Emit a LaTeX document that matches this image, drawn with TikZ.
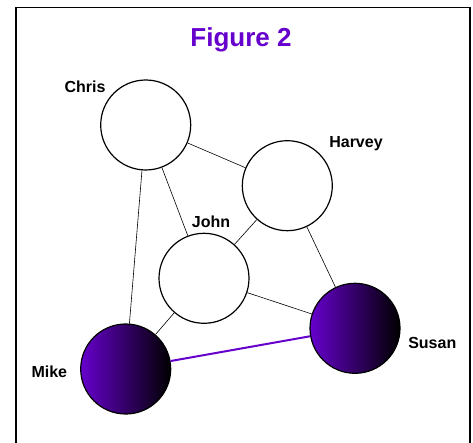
\documentclass[tikz,border=0pt]{standalone}
\usepackage{fontspec}
\setmainfont{Liberation Sans}
\definecolor{vio}{RGB}{102,0,204}
\begin{document}
\begin{tikzpicture}[x=1pt,y=-1pt,
  person/.style={circle,draw=black,line width=1.2pt,minimum size=90pt,inner sep=0pt,fill=white},
  hot/.style={person,shading=axis,left color=vio,right color=black,shading angle=90},
  lbl/.style={font=\fontsize{16}{18}\selectfont\bfseries,inner sep=0pt},
  tie/.style={draw=black,line width=0.6pt},
  strong/.style={draw=vio,line width=2pt}]
\useasboundingbox (0,0) rectangle (473,443);
\begin{scope}
\clip (0,0) rectangle (473,443);
\draw[line width=1.3pt] (16,7.5) rectangle (470,460);
\end{scope}
\node[font=\fontsize{26}{30}\selectfont\bfseries,text=vio] (title) at (241,40) {Figure 2};
\node[person] (chris) at (145.7,125) {};
\node[person] (harvey) at (287.3,185.7) {};
\node[person] (john) at (204,278.3) {};
\node[hot] (susan) at (355,328.3) {};
\node[hot] (mike) at (125.7,369) {};
\node[lbl] (lchris) at (85,87) {Chris};
\node[lbl] (lharvey) at (356,144) {Harvey};
\node[lbl] (ljohn) at (211,222) {John};
\node[lbl] (lsusan) at (432.3,343) {Susan};
\node[lbl] (lmike) at (49.3,372) {Mike};
\path[tie] (chris) -- (harvey);
\path[tie] (chris) -- (john);
\path[tie] (chris) -- (mike);
\path[tie] (harvey) -- (john);
\path[tie] (harvey) -- (susan);
\path[tie] (john) -- (susan);
\path[tie] (john) -- (mike);
\path[strong] (mike) -- (susan);
\end{tikzpicture}
\end{document}
